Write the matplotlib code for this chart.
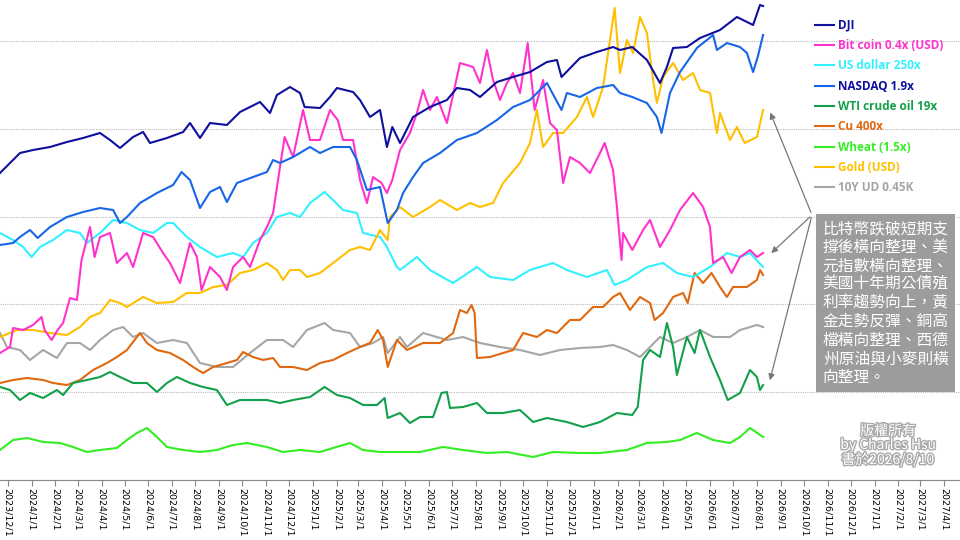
import matplotlib
matplotlib.use("Agg")
import matplotlib.pyplot as plt
import matplotlib.patheffects as pe
import pandas as pd
import numpy as np

BASE = pd.Timestamp("2023-12-01")

dji_d = [-10,16,33,55,77,98,120,133,146,163,176,185,207,228,237,250,263,285,302,328,341,350,367,380,386,406,419,428,449,458,471,484,493,500,510,527,549,571,584,601,614,636,657,679,701,714,720,744,766,787,796,812,831,848,857,865,883,900,926,948,969,978,982]
dji_v = [307,327,330,333,338,342,347,340,332,343,348,337,342,348,357,342,357,355,368,378,367,385,393,387,373,372,383,392,388,380,363,370,333,353,337,363,373,380,392,390,383,398,403,408,418,420,403,422,428,433,430,433,420,397,413,432,433,442,450,463,455,475,474]

ndq_d = [-10,7,16,29,39,55,77,98,120,137,146,155,172,194,215,226,237,250,263,276,285,298,319,337,345,354,371,393,406,423,445,454,467,484,494,506,514,527,540,562,584,610,636,657,679,701,720,727,744,766,787,796,812,831,844,850,861,874,896,917,922,935,952,961,969,975,982]
ndq_v = [235,237,243,250,242,253,263,268,272,270,257,263,277,287,295,308,300,272,288,293,278,297,303,308,320,317,323,333,327,333,333,320,290,293,257,270,287,303,317,327,340,347,360,373,380,397,370,387,383,392,395,387,383,377,363,347,387,408,432,445,430,437,433,427,408,423,445]

btc_d = [-10,3,7,20,33,44,48,57,65,72,81,90,96,107,113,120,133,142,155,163,176,189,202,211,224,237,246,252,263,276,285,293,306,315,328,337,345,354,360,371,384,393,406,419,429,436,449,458,467,475,486,493,500,510,523,532,540,549,558,571,588,605,614,623,631,640,649,657,666,676,685,696,705,714,722,731,744,757,770,776,787,792,798,800,812,826,835,848,861,874,891,904,913,917,930,941,952,965,974,982]
btc_v = [127,133,152,150,155,163,150,140,150,157,182,180,220,253,223,243,247,217,227,213,247,243,227,217,197,237,223,190,213,203,190,213,223,213,240,253,267,313,343,323,370,340,340,370,360,340,340,300,277,303,297,287,300,330,347,367,390,370,383,357,417,413,397,430,400,380,397,407,387,437,370,400,357,350,297,323,317,307,327,337,310,273,220,247,230,250,260,233,250,270,287,273,253,217,223,207,223,230,223,227]

usd_d = [-10,7,20,31,42,59,77,94,103,120,137,155,172,189,207,215,233,250,272,293,306,319,337,350,367,380,393,412,423,436,454,462,484,493,506,510,532,549,579,610,627,657,679,709,727,753,779,789,805,831,852,870,891,913,935,952,965,982]
usd_v = [247,240,233,223,233,240,250,247,237,247,260,257,250,247,257,257,243,233,223,227,223,237,247,263,267,263,277,288,280,270,267,247,243,233,213,210,223,210,197,213,203,200,210,217,210,203,210,195,200,213,217,207,203,213,227,223,227,213]

gold_d = [-10,12,33,55,77,94,107,120,133,146,155,176,194,215,233,250,267,285,302,319,337,350,358,367,380,389,406,423,445,458,471,484,494,497,510,527,549,562,584,601,614,631,644,666,679,688,696,709,722,740,753,761,774,783,789,796,805,813,822,831,839,844,852,865,878,891,900,913,922,926,939,948,958,974,982]
gold_v = [143,150,150,147,145,153,163,167,180,177,173,183,177,178,187,187,193,195,207,210,217,210,200,210,210,203,207,217,230,233,230,250,240,263,273,263,273,280,270,277,273,277,297,317,337,370,333,347,347,363,383,363,393,440,472,407,440,427,463,447,400,377,403,417,400,407,390,387,347,367,340,353,337,343,370]

tny_d = [-10,-1,16,29,46,64,77,94,107,120,137,150,163,176,194,215,233,250,272,293,315,337,358,371,389,412,423,445,458,475,488,494,510,519,540,571,592,614,640,666,692,718,744,770,787,805,822,835,848,865,883,900,917,939,952,974,982]
tny_v = [147,133,130,120,130,122,137,137,130,140,150,153,143,147,137,140,137,117,113,113,127,140,140,133,150,157,150,147,133,137,143,127,143,133,147,140,143,137,133,130,125,130,132,133,135,130,123,133,143,137,143,150,143,143,150,155,153]

cu_d = [-10,7,25,46,59,77,94,111,129,142,155,172,181,194,211,228,241,254,267,285,298,306,319,332,345,354,371,389,406,423,441,458,471,481,488,494,506,519,540,562,579,588,597,603,607,610,627,644,657,670,688,701,714,731,744,761,774,787,796,809,822,835,841,852,865,878,884,893,904,915,926,935,943,961,974,978,982]
cu_v = [97,100,102,100,97,95,100,110,117,123,130,147,137,130,127,120,113,107,113,117,120,128,123,120,122,113,113,110,117,120,127,133,137,150,140,113,140,130,137,137,147,170,167,175,167,122,123,127,130,147,143,150,147,160,160,173,173,183,187,170,183,177,160,167,183,187,177,207,197,207,193,183,193,193,200,210,205]

wti_d = [-10,3,16,29,46,64,72,85,103,120,133,146,163,181,194,207,220,237,254,272,285,302,319,337,354,371,393,412,428,445,462,480,490,494,510,523,536,553,564,571,575,592,610,623,644,666,683,701,727,748,770,792,812,819,826,835,848,857,865,870,883,893,900,913,926,936,952,965,974,978,982]
wti_v = [93,90,80,87,82,90,85,97,100,103,108,103,97,97,88,97,103,97,93,90,75,80,80,80,77,80,83,93,85,82,75,75,82,62,67,57,63,63,87,88,72,73,77,67,67,70,58,62,58,53,58,67,65,73,120,130,123,157,133,105,143,127,150,123,100,80,87,110,103,90,95]

wht_d = [-10,7,25,46,68,85,103,120,142,155,168,181,194,207,228,250,272,293,311,337,358,380,406,423,445,462,484,510,536,566,592,623,649,683,709,744,770,805,831,857,874,896,917,939,952,965,982]
wht_v = [30,40,42,38,37,33,28,30,32,40,47,52,43,33,30,28,30,35,37,33,28,30,28,32,37,30,28,28,28,33,30,27,28,23,28,27,27,30,37,38,40,47,40,37,43,52,43]

series = [
    ("DJI", dji_d, dji_v, "#0f0f9e"),
    ("Bit coin 0.4x (USD)", btc_d, btc_v, "#ff33cc"),
    ("US dollar 250x", usd_d, usd_v, "#33f0ff"),
    ("NASDAQ 1.9x", ndq_d, ndq_v, "#1766e8"),
    ("WTI crude oil 19x", wti_d, wti_v, "#12a04a"),
    ("Cu 400x", cu_d, cu_v, "#e0680f"),
    ("Wheat (1.5x)", wht_d, wht_v, "#33ee22"),
    ("Gold (USD)", gold_d, gold_v, "#ffc000"),
    ("10Y UD 0.45K", tny_d, tny_v, "#a6a6a6"),
]
label_colors = ["#0f0f9e", "#ff33cc", "#33f0ff", "#0f0f9e", "#12a04a", "#e0680f", "#33ee22", "#ffc000", "#a6a6a6"]

note = ("比特幣跌破短期支\n撐後橫向整理、美\n元指數橫向整理、\n美國十年期公債殖\n"
        "利率趨勢向上，黃\n金走勢反彈、銅高\n檔橫向整理、西德\n州原油與小麥則橫\n向整理。")

plt.rcParams['font.family'] = ['DejaVu Sans']
fig = plt.figure(figsize=(9.6, 5.4), dpi=100)
ax = fig.add_axes([0, 60/540, 1.0, 480/540])

def td(d):
    return [BASE + pd.Timedelta(days=int(x)) for x in d]

order = [8, 5, 4, 6, 2, 7, 1, 3, 0]
handles = {}
for i in order:
    name, d, v, c = series[i]
    ln, = ax.plot(td(d), v, color=c, lw=1.5, label=name)
    handles[i] = ln

ax.set_xlim(BASE - pd.Timedelta(days=10), BASE + pd.Timedelta(days=1238))
ax.set_ylim(0, 480)
ax.set_yticks(np.arange(0, 480, 87.8))
ax.yaxis.grid(True, color="#bbbbbb", ls=(0, (1, 1)), lw=0.8)
ax.tick_params(axis='y', left=False, labelleft=False)
ticks = pd.date_range("2023-12-01", "2027-04-01", freq="MS")
ax.set_xticks(ticks)
ax.set_xticklabels([f"{t.year}/{t.month}/1" for t in ticks], rotation=-90, fontsize=6.8)
ax.tick_params(axis='x', length=4, color="#888888", pad=2)
for s in ["top", "right", "left"]:
    ax.spines[s].set_visible(False)
ax.spines["bottom"].set_color("#888888")

leg = fig.legend([handles[i] for i in range(9)], [s[0] for s in series],
                 loc="upper left", bbox_to_anchor=(0.838, 0.985), frameon=False,
                 handlelength=1.6, handletextpad=0.3, labelspacing=0.62,
                 prop={"weight": "bold", "size": 8.5, "family": "Open Sans"})
for t, c in zip(leg.get_texts(), label_colors):
    t.set_color(c)

fig.text(0.857, 0.592, note, ha="left", va="top", color="white", fontsize=11.3,
         family=["Noto Sans CJK TC", "DejaVu Sans"], linespacing=1.12,
         bbox=dict(boxstyle="square,pad=0.4", fc="#9c9c9c", ec="none"))

end = BASE + pd.Timedelta(days=990)
src = (812/960, 1 - 215/540)
for yv in [370, 225, 97]:
    ax.annotate("", xy=(end, yv), xycoords="data", xytext=src, textcoords="figure fraction",
                arrowprops=dict(arrowstyle="-|>", color="#777777", lw=0.9, mutation_scale=9))

fig.text(0.925, 0.175, "版權所有\nby Charles Hsu\n書於2026/8/10", ha="center", va="center",
         color="white", fontsize=10, family=["Noto Sans CJK TC", "DejaVu Sans"], linespacing=1.0,
         path_effects=[pe.withStroke(linewidth=2, foreground="#aaaaaa")])

fig.savefig("out.png", dpi=100)
